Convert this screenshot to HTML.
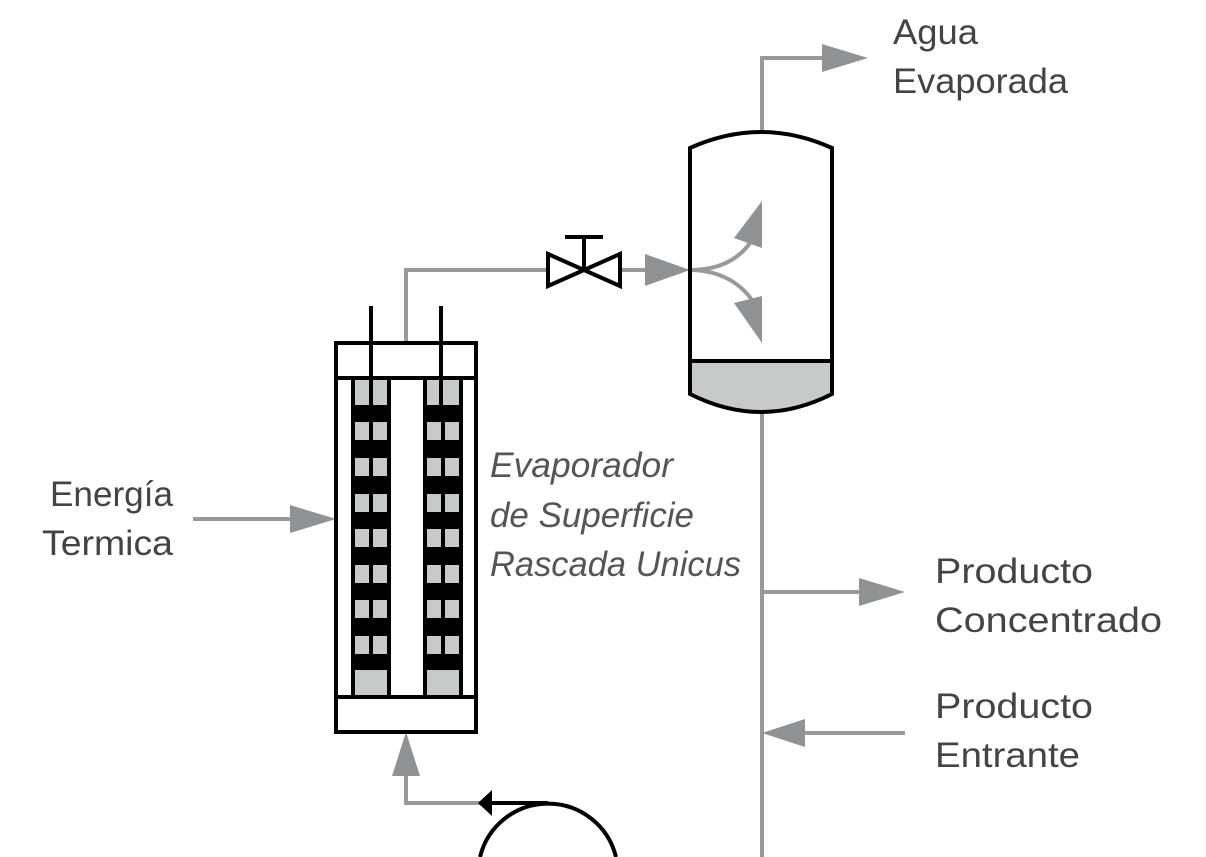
<!DOCTYPE html>
<html><head><meta charset="utf-8"><style>html,body{margin:0;padding:0;background:#fff;width:1206px;height:857px;overflow:hidden}svg{display:block}</style></head>
<body>
<svg width="1206" height="857" viewBox="0 0 1206 857" xmlns="http://www.w3.org/2000/svg" style="overflow:hidden">
<g fill="#444" font-family="Liberation Sans, sans-serif" font-size="35">
<text x="893" y="44" textLength="85" lengthAdjust="spacingAndGlyphs">Agua</text>
<text x="893" y="93" textLength="175" lengthAdjust="spacingAndGlyphs">Evaporada</text>
<text x="50" y="506" textLength="123" lengthAdjust="spacingAndGlyphs">Energía</text>
<text x="42" y="555" textLength="131" lengthAdjust="spacingAndGlyphs">Termica</text>
<text x="935" y="583" textLength="158" lengthAdjust="spacingAndGlyphs">Producto</text>
<text x="935" y="632" textLength="227" lengthAdjust="spacingAndGlyphs">Concentrado</text>
<text x="935" y="718" textLength="158" lengthAdjust="spacingAndGlyphs">Producto</text>
<text x="935" y="767" textLength="145" lengthAdjust="spacingAndGlyphs">Entrante</text>
<g font-style="italic" fill="#555">
<text x="490" y="477" textLength="183" lengthAdjust="spacingAndGlyphs">Evaporador</text>
<text x="490" y="527" textLength="204" lengthAdjust="spacingAndGlyphs">de Superficie</text>
<text x="490" y="576" textLength="251" lengthAdjust="spacingAndGlyphs">Rascada Unicus</text>
</g>
</g>
<g stroke="#999" stroke-width="4" fill="none">
<polyline points="406,342 406,270 548,270"/>
<line x1="619" y1="270" x2="650" y2="270"/>
<polyline points="762,130 762,58 825,58"/>
<line x1="762" y1="412" x2="762" y2="857"/>
<line x1="762" y1="592" x2="862" y2="592"/>
<line x1="800" y1="733" x2="905" y2="733"/>
<line x1="193" y1="519" x2="292" y2="519"/>
<polyline points="480,803 406,803 406,772"/>
<path d="M690,270 C715,270 738,262 752,240"/>
<path d="M690,270 C715,270 738,280 752,300"/>
</g>
<g fill="#909294">
<polygon points="645,254 690,270 645,286"/>
<polygon points="822,44 868,58 822,72"/>
<polygon points="859,578 905,592 859,606"/>
<polygon points="805,719 762,733 805,747"/>
<polygon points="290,505 336,519 290,533"/>
<polygon points="392,776 406,732 420,776"/>
<polygon points="762,201 734,238 762,248"/>
<polygon points="762,343 734,303 762,296"/>
</g>
<path d="M690,362 L832,362 L832,394 Q761,430 690,394 Z" fill="#c8c9c9"/>
<path d="M690,148 Q761,116 832,148 L832,394 Q761,430 690,394 Z" fill="none" stroke="#000" stroke-width="4"/>
<line x1="690" y1="361" x2="832" y2="361" stroke="#000" stroke-width="4"/>
<g stroke="#000" stroke-width="4" fill="#fff" stroke-linejoin="miter">
<polygon points="548,254 620,286 620,254 548,286"/>
<line x1="584" y1="270" x2="584" y2="237"/>
<line x1="565" y1="237" x2="603" y2="237"/>
</g>
<g>
<rect x="351" y="378" width="40" height="319" fill="#000"/>
<rect x="423" y="378" width="40" height="319" fill="#000"/>
<rect x="355" y="378" width="32" height="27" fill="#c8c9c9"/>
<rect x="427" y="378" width="32" height="27" fill="#c8c9c9"/>
<rect x="355" y="670" width="32" height="27" fill="#c8c9c9"/>
<rect x="427" y="670" width="32" height="27" fill="#c8c9c9"/>
<g fill="#c8c9c9">
<rect x="355" y="422" width="14" height="18"/><rect x="373" y="422" width="14" height="18"/><rect x="427" y="422" width="14" height="18"/><rect x="445" y="422" width="14" height="18"/>
<rect x="355" y="458" width="14" height="18"/><rect x="373" y="458" width="14" height="18"/><rect x="427" y="458" width="14" height="18"/><rect x="445" y="458" width="14" height="18"/>
<rect x="355" y="494" width="14" height="18"/><rect x="373" y="494" width="14" height="18"/><rect x="427" y="494" width="14" height="18"/><rect x="445" y="494" width="14" height="18"/>
<rect x="355" y="529" width="14" height="18"/><rect x="373" y="529" width="14" height="18"/><rect x="427" y="529" width="14" height="18"/><rect x="445" y="529" width="14" height="18"/>
<rect x="355" y="565" width="14" height="18"/><rect x="373" y="565" width="14" height="18"/><rect x="427" y="565" width="14" height="18"/><rect x="445" y="565" width="14" height="18"/>
<rect x="355" y="600" width="14" height="18"/><rect x="373" y="600" width="14" height="18"/><rect x="427" y="600" width="14" height="18"/><rect x="445" y="600" width="14" height="18"/>
<rect x="355" y="636" width="14" height="18"/><rect x="373" y="636" width="14" height="18"/><rect x="427" y="636" width="14" height="18"/><rect x="445" y="636" width="14" height="18"/>
</g>
<g stroke="#000" stroke-width="4" fill="none">
<rect x="336" y="343" width="140" height="389"/>
<line x1="336" y1="378" x2="476" y2="378"/>
<line x1="336" y1="697" x2="476" y2="697"/>
<line x1="371" y1="306" x2="371" y2="405"/>
<line x1="441" y1="306" x2="441" y2="405"/>
</g>
</g>
<path d="M480,857 A70,70 0 0 1 616,857" fill="none" stroke="#000" stroke-width="4"/>
<line x1="480" y1="803" x2="548" y2="803" stroke="#000" stroke-width="4"/>
<polygon points="478,803 492,790 492,816" fill="#000"/>
</svg>
</body></html>
